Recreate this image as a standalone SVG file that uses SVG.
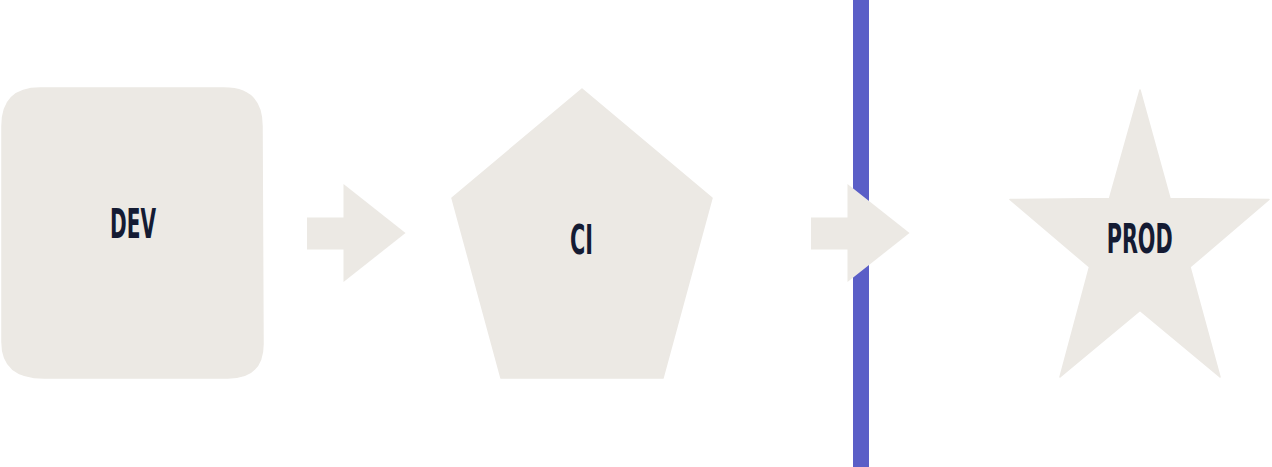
<svg xmlns="http://www.w3.org/2000/svg" width="1272" height="467" viewBox="0 0 1272 467">
  <style>
    .shape { fill: #ECE9E4; stroke: #ECE9E4; stroke-width: 1.5; stroke-linejoin: round; }
    .label { font-family: "Liberation Sans Narrow", "DejaVu Sans Condensed", "Liberation Sans", sans-serif; font-weight: bold; font-size: 40px; fill: #141B33; }
    .arrow { fill: #ECE9E4; }
  </style>
  <rect width="1272" height="467" fill="#FFFFFF"/>
  <g id="boundary">
    <rect x="853" y="0" width="16" height="467" fill="#5A5EC7"/>
  </g>
  <g id="dev">
    <path class="shape" d="M40,88 L224,88 Q262,88 262,126 L263,344 Q263,378 228,378 L44,378 Q2,378 2,342 L2,126 Q2,88 40,88 Z"/>
    <text class="label" x="110" y="237.5" textLength="46" lengthAdjust="spacingAndGlyphs">DEV</text>
  </g>
  <g id="ci">
    <polygon class="shape" points="582,89 712,198 663,378 501,378 452,198"/>
    <text class="label" x="570" y="254.3" textLength="23" lengthAdjust="spacingAndGlyphs">CI</text>
  </g>
  <g id="prod">
    <polygon class="shape" points="1140,90 1170,198.5 1269,199.5 1190,267 1220,377 1140,310.5 1060,377 1089.5,267 1010,199.5 1109.5,198.5"/>
    <text class="label" x="1106.7" y="253.3" textLength="66" lengthAdjust="spacingAndGlyphs">PROD</text>
  </g>
  <g id="connectors">
    <polygon class="arrow" points="307,217.5 343.5,217.5 343.5,184 405.5,233 343.5,282 343.5,249.5 307,249.5"/>
    <polygon class="arrow" points="811,217.5 847.5,217.5 847.5,184 909.5,233 847.5,282 847.5,249.5 811,249.5"/>
  </g>
</svg>
